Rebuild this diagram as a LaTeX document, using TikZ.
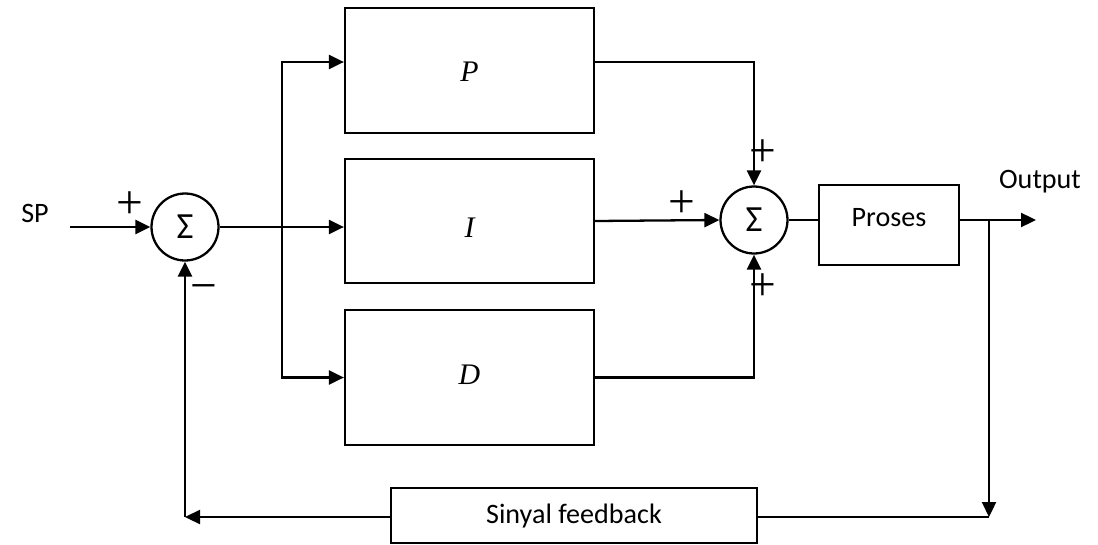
\documentclass[tikz,border=0pt]{standalone}
\usepackage{fontspec}
\setmainfont{Carlito}
\newfontfamily\serifit{Liberation Serif}
\usetikzlibrary{positioning,arrows.meta}

\tikzset{
    blok/.style={draw, line width=1.3pt, minimum width=4.98cm, inner sep=0pt},
    jumlah/.style={draw, circle, line width=1.3pt, minimum size=1.34cm, inner sep=0pt,
        font=\fontsize{21}{24}\selectfont},
    garis/.style={line width=1.3pt},
    panah/.style={garis, -{Triangle[length=0.3cm,width=0.28cm]}},
    tanda/.style={font=\serifit\fontsize{27}{30}\selectfont, inner sep=0pt},
    huruf/.style={font=\serifit\itshape\fontsize{17}{20}\selectfont}
}

\begin{document}
\begin{tikzpicture}[x=0.02cm, y=-0.02cm, font=\fontsize{16}{19}\selectfont]
    \useasboundingbox (0,0) rectangle (1098,544);

    % ---- Summing junctions ----
    \node[jumlah] (sum1) at (185,227) {Σ};
    \node[jumlah] (sum2) at (754,220) {Σ};

    % ---- P, I, D blocks ----
    \node[blok, minimum height=2.5cm] (P) at (469.5,70.5) {};
    \node[huruf] (pl) at (469.5,72) {P};
    \node[blok, minimum height=2.48cm] (I) at (469.5,221) {};
    \node[huruf] (il) at (469.5,228) {I};
    \node[blok, minimum height=2.7cm] (D) at (469.5,377.5) {};
    \node[huruf] (dl) at (469.5,375) {D};

    % ---- Plant and feedback ----
    \node[blok, minimum width=2.8cm, minimum height=1.6cm, text depth=0.3cm] (proses) at (889,225) {Proses};
    \node[blok, minimum width=7.32cm, minimum height=1.1cm] (fb) at (574,515.5) {Sinyal feedback};

    % Labels
    \node (sp) at (35,213) {SP};
    \node (out) at (1040,182) {Output};
    \node[tanda] (p1) at (130,205) {+};
    \node[tanda] (m1) at (204,293) {−};
    \node[tanda] (p2) at (682,204) {+};
    \node[tanda] (p3) at (763,153) {+};
    \node[tanda] (p4) at (763,287) {+};

    % Forward path
    \coordinate (spin) at (70,227);
    \coordinate (br) at (282,227);
    \draw[panah] (spin) -- (sum1.west);
    \draw[garis] (sum1.east) -- (br);
    \draw[panah] (br) |- ([yshift=0.17cm]P.west);
    \draw[panah] (br) -- (br -| I.west);
    \draw[panah] (br) |- (D.west);

    \draw[panah] ([yshift=0.17cm]P.east) -| (sum2.north);
    \draw[panah] (I.east) -- (sum2.west);
    \draw[panah] (D.east) -| (sum2.south);
    \draw[garis] (sum2.east) -- (sum2.east -| proses.west);

    \coordinate (outend) at (1036,220);
    \draw[panah] (sum2 -| proses.east) -- (outend);

    % Feedback path
    \coordinate (br2) at (989,220);
    \coordinate (fbr) at (989,517);
    \draw[panah] (br2) -- (fbr);
    \draw[garis] (fbr) -- (fbr -| fb.east);
    \draw[panah] (fbr -| fb.west) -- (fbr -| sum1);
    \draw[panah] (fbr -| sum1) -- (sum1.south);
\end{tikzpicture}
\end{document}
